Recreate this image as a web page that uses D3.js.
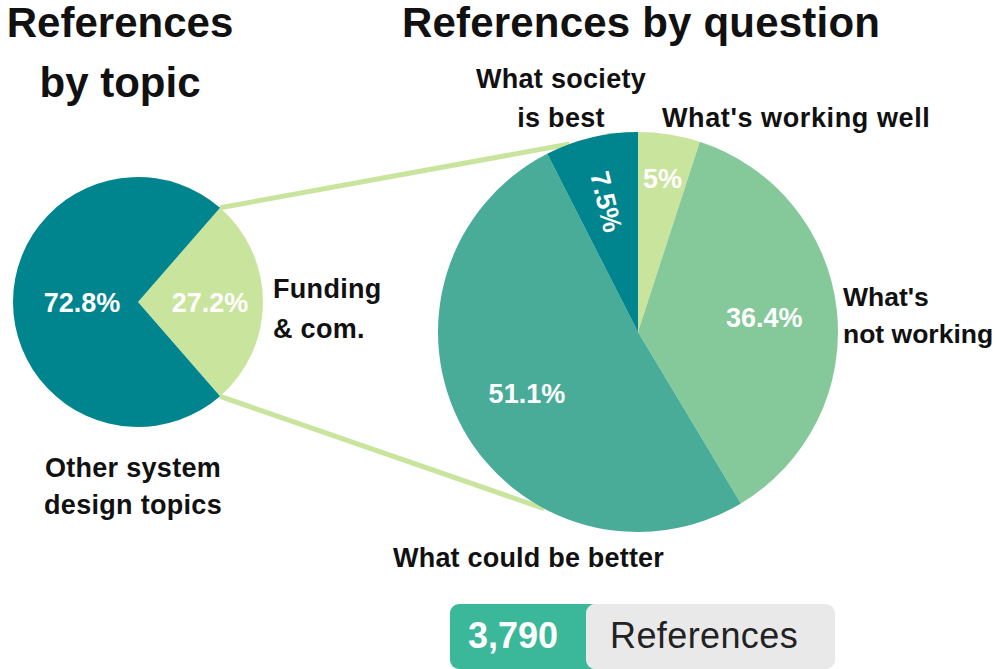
<!DOCTYPE html>
<html>
<head>
<meta charset="utf-8">
<script src="https://cdn.jsdelivr.net/npm/d3@7"></script>
<style>
  html, body { margin: 0; padding: 0; background: #fff; }
  svg { display: block; font-family: "Liberation Sans", Arial, sans-serif; }
</style>
</head>
<body>
<svg id="chart" width="997" height="669"></svg>
<script>
// Topic split (left pie)
const topicNames = ["Funding & com.", "Other system design topics"];
const topicValues = [27.2, 72.8];
const topicColors = ["#c9e49c", "#00858f"];

// Question split inside "Funding & com." (right pie)
const questionNames = ["What's working well", "What's not working", "What could be better", "What society is best"];
const questionValues = [5, 36.4, 51.1, 7.5];
const questionColors = ["#c9e49c", "#85c99a", "#49ac99", "#00858f"];

const totalReferences = 3790;

const svg = d3.select("#chart");
const deg = Math.PI / 180;

// geometry
const L = { cx: 138, cy: 302, r: 125 };
const R = { cx: 638, cy: 332, r: 200 };

const fundingShare = topicValues[0] / d3.sum(topicValues);
const leftStart = Math.PI / 2 - Math.PI * fundingShare;

const leftPie = d3.pie().sort(null).value(d => d)
  .startAngle(leftStart).endAngle(leftStart + 2 * Math.PI);
const rightPie = d3.pie().sort(null).value(d => d);

const leftArcs = leftPie(topicValues);
const rightArcs = rightPie(questionValues);

const leftArc = d3.arc().innerRadius(0).outerRadius(L.r);
const rightArc = d3.arc().innerRadius(0).outerRadius(R.r);

function polar(c, r, a) {
  return [c.cx + r * Math.sin(a), c.cy - r * Math.cos(a)];
}

// connector lines from the funding slice edges to the question pie
const fund = leftArcs[0];
const connectors = [
  [polar(L, L.r, fund.startAngle), polar(R, R.r, -20 * deg)],
  [polar(L, L.r, fund.endAngle), polar(R, R.r, 208 * deg)]
];
svg.append("g").selectAll("line").data(connectors).join("line")
  .attr("x1", d => d[0][0]).attr("y1", d => d[0][1])
  .attr("x2", d => d[1][0]).attr("y2", d => d[1][1])
  .attr("stroke", "#c9e49c").attr("stroke-width", 5);

// left pie
const gL = svg.append("g").attr("transform", `translate(${L.cx},${L.cy})`);
gL.selectAll("path").data(leftArcs).join("path")
  .attr("d", leftArc).attr("fill", (d, i) => topicColors[i]);
const leftLabelR = [72, 56];
gL.selectAll("text").data(leftArcs).join("text")
  .attr("transform", (d, i) => {
    const m = (d.startAngle + d.endAngle) / 2;
    return `translate(${leftLabelR[i] * Math.sin(m)},${-leftLabelR[i] * Math.cos(m)})`;
  })
  .attr("text-anchor", "middle").attr("dy", "0.36em")
  .attr("fill", "#fff").attr("font-weight", "bold").attr("font-size", 27)
  .text(d => d3.format(".1f")(d.value) + "%");

// right pie
const gR = svg.append("g").attr("transform", `translate(${R.cx},${R.cy})`);
gR.selectAll("path").data(rightArcs).join("path")
  .attr("d", rightArc).attr("fill", (d, i) => questionColors[i]);
const rightLabelR = [156, 127, 127, 134];
gR.selectAll("text").data(rightArcs).join("text")
  .attr("transform", (d, i) => {
    const m = (d.startAngle + d.endAngle) / 2;
    const x = rightLabelR[i] * Math.sin(m), y = -rightLabelR[i] * Math.cos(m);
    const rot = i === 3 ? m / deg - 270 : 0;
    return `translate(${x},${y}) rotate(${rot})`;
  })
  .attr("text-anchor", "middle").attr("dy", "0.36em")
  .attr("fill", "#fff").attr("font-weight", "bold").attr("font-size", 27)
  .text(d => d3.format("~g")(d.value) + "%");

// titles and labels
function lines(x, ys, texts, anchor, size, weight, spacing) {
  const t = svg.append("text").attr("text-anchor", anchor)
    .attr("font-size", size).attr("font-weight", weight).attr("fill", "#111")
    .attr("letter-spacing", spacing || 0);
  texts.forEach((s, i) => t.append("tspan").attr("x", x).attr("y", ys[i]).text(s));
  return t;
}
lines(120, [37, 97], ["References", "by topic"], "middle", 42, "bold");
lines(641, [37], ["References by question"], "middle", 42, "bold", 0.2);

const lab = 27;
lines(273, [298, 338], ["Funding", "& com."], "start", lab, "bold", 0.3);
lines(133, [477, 514], ["Other system", "design topics"], "middle", lab, "bold", 0.3);
lines(561, [88, 127], ["What society", "is best"], "middle", lab, "bold", 0.3);
lines(662, [127], [questionNames[0]], "start", lab, "bold", 0.6);
lines(843, [306, 343], ["What's", "not working"], "start", 26.5, "bold", 0);
lines(393, [567], [questionNames[2]], "start", lab, "bold", 0.2);

// total badge
const badge = svg.append("g");
badge.append("rect").attr("x", 450).attr("y", 604).attr("width", 150).attr("height", 65)
  .attr("rx", 9).attr("fill", "#3bb89a");
badge.append("rect").attr("x", 586).attr("y", 604).attr("width", 249).attr("height", 65)
  .attr("rx", 9).attr("fill", "#e9e9e9");
badge.append("text").attr("x", 513).attr("y", 648).attr("text-anchor", "middle")
  .attr("font-size", 36).attr("font-weight", "bold").attr("fill", "#fff")
  .text(d3.format(",")(totalReferences));
badge.append("text").attr("x", 610).attr("y", 648)
  .attr("font-size", 36).attr("fill", "#222").attr("letter-spacing", 0.4)
  .text("References");
</script>
</body>
</html>
